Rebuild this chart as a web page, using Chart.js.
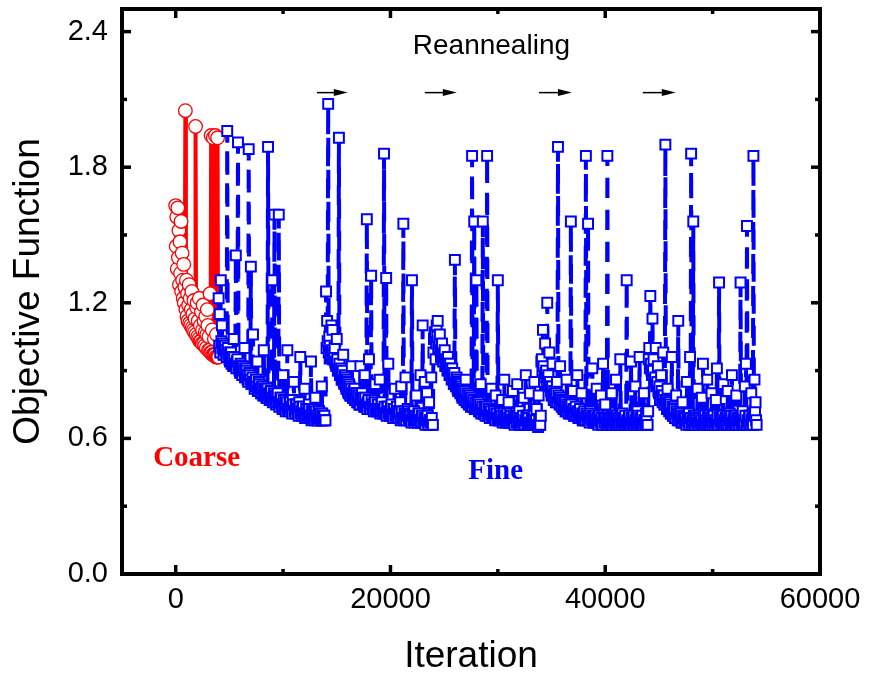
<!DOCTYPE html>
<html>
<head>
<meta charset="utf-8">
<script src="https://cdn.jsdelivr.net/npm/chart.js@4.4.1/dist/chart.umd.min.js"></script>
<style>
  html, body { margin: 0; padding: 0; background: #fff; }
  canvas { display: block; }
</style>
</head>
<body>
<canvas id="annealChart" width="871" height="681"></canvas>
<script>
// Axis ticks
const xTicks = [0, 20000, 40000, 60000];
const xMinorTicks = [10000, 30000, 50000];
const yTicks = [0, 0.6, 1.2, 1.8, 2.4];
const yMinorTicks = [0.3, 0.9, 1.5, 2.1];

// Coarse stage (red circles), sampled every 50 iterations from 0
const coarseStart = 0;
const coarseStep = 50;
const coarseValues = [
    1.63, 1.45, 1.58, 1.35, 1.62, 1.40, 1.52, 1.28, 1.47, 1.33,
    1.56, 1.25, 1.42, 1.30, 1.22, 1.37, 1.20, 1.27, 2.05, 1.17,
    1.30, 1.14, 1.24, 1.12, 1.19, 1.28, 1.11, 1.22, 1.10, 1.17,
    1.25, 1.09, 1.15, 1.08, 1.21, 1.07, 1.13, 1.98, 1.06, 1.18,
    1.20, 1.05, 1.12, 1.04, 1.22, 1.03, 1.10, 1.03, 1.16, 1.02,
    1.08, 1.19, 1.02, 1.12, 1.01, 1.07, 1.14, 1.00, 1.06, 1.17,
    1.10, 0.99, 1.05, 0.99, 1.24, 0.98, 1.94, 0.98, 1.08, 0.97,
    1.93, 0.97, 1.04, 0.97, 1.94, 0.96, 1.06, 0.96, 1.93, 0.96,
    0.96
];

// Fine stage (blue squares), five reannealing runs.
// fineRunN: samples every 100 iterations from the run start,
// fineBandN: samples half way between them (the dense low band)
const fineStarts = [4000, 14000, 24000, 34000, 44000];
const fineStep = 100;
const fineRun1 = [
    1.22, 1.15, 1.30, 1.10, 1.02, 0.99, 1.01, 0.97, 1.96, 0.98,
    0.95, 0.97, 0.93, 0.96, 1.04, 0.92, 1.41, 0.94, 1.91, 0.91,
    0.89, 0.92, 0.88, 0.91, 1.00, 0.87, 0.90, 0.86, 1.88, 0.88,
    1.36, 0.84, 1.06, 0.85, 0.83, 0.86, 0.94, 0.81, 0.84, 0.82,
    0.80, 0.83, 0.99, 0.79, 0.82, 0.78, 1.89, 0.80, 0.78, 0.81,
    1.30, 0.77, 1.59, 0.79, 0.76, 0.80, 1.59, 0.76, 0.78, 0.75,
    0.88, 0.74, 0.77, 0.75, 0.99, 0.73, 0.76, 0.74, 0.72, 0.77,
    0.85, 0.72, 0.75, 0.73, 0.71, 0.76, 0.96, 0.72, 0.74, 0.71,
    0.82, 0.70, 0.73, 0.71, 0.75, 0.70, 0.94, 0.72, 0.69, 0.73,
    0.78, 0.70, 0.68, 0.72, 0.69, 0.71, 0.83, 0.68, 0.70, 0.68
];
const fineBand1 = [
    1.01, 0.98, 1.03, 1.00, 0.97, 1.01, 0.99, 0.96, 1.00, 0.97,
    0.94, 0.98, 0.95, 0.92, 0.96, 0.93, 0.91, 0.95, 0.92, 0.90,
    0.93, 0.89, 0.92, 0.90, 0.87, 0.91, 0.88, 0.85, 0.89, 0.86,
    0.84, 0.87, 0.85, 0.82, 0.86, 0.83, 0.81, 0.85, 0.82, 0.80,
    0.83, 0.79, 0.82, 0.80, 0.78, 0.82, 0.79, 0.77, 0.81, 0.78,
    0.76, 0.80, 0.77, 0.75, 0.79, 0.76, 0.74, 0.78, 0.75, 0.73,
    0.77, 0.74, 0.72, 0.76, 0.73, 0.72, 0.76, 0.73, 0.71, 0.75,
    0.72, 0.71, 0.75, 0.72, 0.70, 0.74, 0.71, 0.70, 0.74, 0.71,
    0.69, 0.73, 0.70, 0.69, 0.73, 0.70, 0.68, 0.72, 0.69, 0.68,
    0.72, 0.69, 0.68, 0.72, 0.69, 0.68, 0.71, 0.68, 0.70, 0.68
];
const fineRun2 = [
    1.25, 1.12, 2.08, 1.05, 0.98, 1.10, 1.08, 0.95, 1.00, 0.93,
    1.04, 0.90, 1.93, 0.88, 0.91, 0.86, 0.97, 0.84, 0.87, 0.82,
    0.85, 0.80, 0.83, 0.79, 0.92, 0.78, 0.81, 0.77, 0.80, 0.76,
    0.79, 0.75, 0.92, 0.77, 0.75, 0.78, 0.88, 0.74, 1.57, 0.76,
    0.95, 0.73, 1.32, 0.75, 0.73, 0.77, 0.84, 0.72, 0.75, 0.73,
    0.86, 0.72, 0.76, 0.73, 1.86, 0.71, 1.31, 0.74, 0.93, 0.72,
    0.71, 0.75, 0.70, 0.73, 0.82, 0.71, 0.74, 0.70, 0.72, 0.76,
    0.83, 0.69, 1.55, 0.72, 0.87, 0.70, 0.73, 0.69, 0.71, 0.68,
    1.30, 0.70, 0.72, 0.68, 0.79, 0.69, 0.71, 0.68, 0.88, 0.70,
    1.10, 0.67, 0.85, 0.69, 0.80, 0.67, 0.76, 0.68, 0.87, 0.66
];
const fineBand2 = [
    1.00, 1.03, 0.98, 1.01, 0.97, 0.99, 0.95, 0.98, 0.94, 0.92,
    0.95, 0.90, 0.93, 0.88, 0.86, 0.90, 0.85, 0.88, 0.83, 0.86,
    0.81, 0.84, 0.79, 0.82, 0.80, 0.78, 0.82, 0.77, 0.80, 0.76,
    0.79, 0.75, 0.78, 0.80, 0.76, 0.74, 0.78, 0.75, 0.73, 0.77,
    0.74, 0.73, 0.77, 0.74, 0.72, 0.76, 0.73, 0.72, 0.75, 0.72,
    0.71, 0.75, 0.72, 0.71, 0.74, 0.71, 0.70, 0.74, 0.71, 0.70,
    0.73, 0.70, 0.69, 0.73, 0.70, 0.69, 0.72, 0.69, 0.71, 0.68,
    0.72, 0.69, 0.68, 0.71, 0.68, 0.70, 0.72, 0.68, 0.70, 0.67,
    0.71, 0.68, 0.67, 0.70, 0.68, 0.67, 0.71, 0.68, 0.67, 0.70,
    0.67, 0.69, 0.66, 0.68, 0.70, 0.66, 0.68, 0.67, 0.69, 0.66
];
const fineRun3 = [
    0.98, 1.05, 0.95, 1.10, 1.12, 1.00, 1.06, 0.96, 1.02, 0.94,
    0.97, 0.92, 0.95, 0.90, 0.93, 0.88, 0.91, 0.86, 0.89, 0.84,
    1.39, 0.83, 0.86, 0.81, 0.84, 0.80, 0.83, 0.78, 0.81, 0.77,
    0.86, 0.76, 0.79, 0.75, 0.78, 0.74, 1.85, 0.76, 1.56, 0.74,
    1.30, 0.73, 0.76, 0.72, 0.84, 0.73, 1.56, 0.71, 0.74, 0.72,
    1.85, 0.70, 0.73, 0.71, 0.82, 0.70, 0.72, 0.69, 0.79, 0.71,
    1.30, 0.68, 0.71, 0.69, 0.77, 0.68, 0.86, 0.70, 0.68, 0.71,
    0.76, 0.67, 0.70, 0.68, 0.81, 0.67, 0.69, 0.71, 0.84, 0.67,
    0.72, 0.66, 0.69, 0.67, 0.78, 0.66, 0.88, 0.68, 0.70, 0.66,
    0.80, 0.67, 0.69, 0.66, 0.85, 0.68, 0.73, 0.66, 0.79, 0.66
];
const fineBand3 = [
    1.04, 1.07, 1.02, 1.05, 1.00, 1.03, 0.99, 1.01, 0.97, 0.96,
    0.99, 0.94, 0.92, 0.96, 0.90, 0.93, 0.88, 0.91, 0.86, 0.89,
    0.84, 0.87, 0.82, 0.85, 0.81, 0.84, 0.79, 0.82, 0.78, 0.81,
    0.77, 0.80, 0.76, 0.79, 0.75, 0.78, 0.74, 0.77, 0.73, 0.76,
    0.73, 0.76, 0.72, 0.75, 0.71, 0.74, 0.71, 0.73, 0.70, 0.74,
    0.70, 0.73, 0.69, 0.72, 0.70, 0.69, 0.72, 0.68, 0.71, 0.69,
    0.68, 0.71, 0.68, 0.70, 0.67, 0.71, 0.68, 0.67, 0.70, 0.67,
    0.69, 0.71, 0.67, 0.68, 0.70, 0.66, 0.69, 0.67, 0.70, 0.67,
    0.66, 0.69, 0.67, 0.70, 0.66, 0.68, 0.70, 0.66, 0.69, 0.67,
    0.66, 0.69, 0.67, 0.70, 0.66, 0.68, 0.66, 0.65, 0.68, 0.66
];
const fineRun4 = [
    0.70, 0.95, 1.08, 0.85, 1.02, 0.90, 1.20, 0.88, 0.98, 0.83,
    0.79, 0.93, 0.77, 0.81, 0.76, 0.85, 1.89, 0.78, 0.92, 0.75,
    0.77, 0.73, 0.76, 0.72, 0.86, 0.74, 0.71, 0.75, 1.56, 0.72,
    0.81, 0.70, 0.73, 0.71, 0.88, 0.69, 0.72, 0.70, 0.80, 0.68,
    0.71, 0.69, 1.85, 0.70, 1.55, 0.68, 0.72, 0.69, 0.91, 0.67,
    0.70, 0.68, 0.82, 0.67, 0.70, 0.68, 0.79, 0.67, 0.93, 0.69,
    0.75, 0.67, 1.85, 0.66, 0.69, 0.67, 0.80, 0.66, 0.70, 0.68,
    0.86, 0.66, 0.69, 0.67, 0.95, 0.66, 0.71, 0.68, 0.67, 0.66,
    1.30, 0.67, 0.70, 0.66, 0.94, 0.68, 0.67, 0.66, 0.83, 0.69,
    0.72, 0.66, 0.96, 0.67, 0.69, 0.66, 0.80, 0.68, 0.71, 0.66
];
const fineBand4 = [
    0.94, 0.90, 0.92, 0.87, 0.89, 0.85, 0.87, 0.83, 0.85, 0.81,
    0.83, 0.79, 0.81, 0.77, 0.80, 0.76, 0.79, 0.75, 0.78, 0.74,
    0.77, 0.73, 0.76, 0.72, 0.75, 0.72, 0.74, 0.71, 0.75, 0.71,
    0.73, 0.70, 0.74, 0.70, 0.72, 0.69, 0.73, 0.69, 0.71, 0.68,
    0.72, 0.68, 0.71, 0.68, 0.70, 0.67, 0.71, 0.68, 0.70, 0.67,
    0.70, 0.67, 0.69, 0.66, 0.70, 0.67, 0.69, 0.66, 0.70, 0.67,
    0.69, 0.66, 0.70, 0.67, 0.68, 0.66, 0.70, 0.67, 0.69, 0.66,
    0.70, 0.67, 0.68, 0.66, 0.70, 0.67, 0.69, 0.66, 0.70, 0.67,
    0.68, 0.66, 0.70, 0.67, 0.69, 0.66, 0.70, 0.67, 0.68, 0.66,
    0.70, 0.67, 0.69, 0.66, 0.70, 0.67, 0.68, 0.66, 0.70, 0.66
];
const fineRun5 = [
    0.72, 1.00, 1.23, 0.90, 1.13, 0.95, 0.86, 1.00, 0.84, 0.92,
    0.80, 0.77, 0.88, 0.79, 0.98, 0.75, 1.90, 0.77, 0.82, 0.73,
    0.76, 0.71, 0.96, 0.70, 0.74, 0.69, 0.79, 0.71, 1.12, 0.68,
    0.72, 0.67, 0.76, 0.69, 0.70, 0.67, 0.85, 0.68, 0.71, 0.96,
    1.86, 0.67, 1.56, 0.66, 0.70, 0.68, 0.82, 0.66, 0.69, 0.67,
    0.78, 0.93, 0.66, 0.70, 0.67, 0.86, 0.66, 0.69, 0.68, 0.80,
    0.66, 0.70, 0.67, 0.77, 0.91, 0.66, 1.29, 0.68, 0.70, 0.66,
    0.84, 0.67, 0.69, 0.66, 0.81, 0.68, 0.71, 0.66, 0.88, 0.67,
    0.70, 0.66, 0.79, 0.68, 0.69, 0.66, 1.29, 0.67, 0.72, 0.66,
    0.83, 0.93, 1.54, 0.67, 0.70, 0.66, 0.80, 0.70, 1.85, 0.86,
    0.76, 0.66
];
const fineBand5 = [
    0.95, 0.91, 0.93, 0.88, 0.90, 0.85, 0.87, 0.83, 0.85, 0.81,
    0.83, 0.78, 0.81, 0.76, 0.79, 0.75, 0.77, 0.73, 0.76, 0.72,
    0.75, 0.71, 0.74, 0.70, 0.73, 0.69, 0.72, 0.68, 0.71, 0.68,
    0.71, 0.67, 0.70, 0.67, 0.69, 0.66, 0.70, 0.67, 0.66, 0.69,
    0.66, 0.68, 0.70, 0.66, 0.69, 0.67, 0.66, 0.70, 0.67, 0.68,
    0.66, 0.70, 0.67, 0.68, 0.66, 0.69, 0.70, 0.66, 0.68, 0.67,
    0.70, 0.66, 0.68, 0.67, 0.70, 0.66, 0.69, 0.67, 0.68, 0.70,
    0.66, 0.68, 0.67, 0.70, 0.66, 0.69, 0.67, 0.70, 0.66, 0.68,
    0.67, 0.70, 0.66, 0.69, 0.67, 0.68, 0.70, 0.66, 0.68, 0.67,
    0.70, 0.66, 0.68, 0.67, 0.70, 0.66, 0.68, 0.66, 0.70, 0.72,
    0.68
];
const fineRuns = [fineRun1, fineRun2, fineRun3, fineRun4, fineRun5];
const fineBands = [fineBand1, fineBand2, fineBand3, fineBand4, fineBand5];

// Annotations (data coordinates)
const arrowStarts = [13150, 23200, 33830, 43500];
const arrowEnds = [16030, 26180, 36900, 46570];
const arrowLevel = 2.13;
const noteTexts = ['Reannealing', 'Coarse', 'Fine'];
const noteX = [29400, 1950, 29800];
const noteY = [2.335, 0.51, 0.455];

const SANS = '"Liberation Sans", Arial, sans-serif';
const SERIF = '"Liberation Serif", "Times New Roman", serif';

function buildPoints(start, step, values) {
    return values.map((v, i) => ({ x: start + i * step, y: v }));
}

// samples on the step grid, each followed by its half-step band sample
function buildRun(start, step, values, band) {
    const pts = [];
    values.forEach((v, i) => {
        pts.push({ x: start + i * step, y: v });
        if (i < band.length) pts.push({ x: start + i * step + step / 2, y: band[i] });
    });
    return pts;
}

const coarsePoints = buildPoints(coarseStart, coarseStep, coarseValues);
const finePoints = fineRuns.flatMap((run, k) => buildRun(fineStarts[k], fineStep, run, fineBands[k]));

// Frame, inward ticks and text notes
const framePlugin = {
    id: 'frame',
    afterDatasetsDraw(chart) {
        const { ctx, chartArea: a, scales: { x, y } } = chart;
        ctx.save();
        ctx.strokeStyle = '#000';
        ctx.lineCap = 'butt';

        function seg(x1, y1, x2, y2) {
            ctx.beginPath();
            ctx.moveTo(x1, y1);
            ctx.lineTo(x2, y2);
            ctx.stroke();
        }

        ctx.lineWidth = 3.5;
        xTicks.forEach(v => {
            const px = x.getPixelForValue(v);
            seg(px, a.bottom, px, a.bottom - 9);
            seg(px, a.top, px, a.top + 9);
        });
        xMinorTicks.forEach(v => {
            const px = x.getPixelForValue(v);
            seg(px, a.bottom, px, a.bottom - 5);
            seg(px, a.top, px, a.top + 5);
        });
        yTicks.forEach(v => {
            const py = y.getPixelForValue(v);
            seg(a.left, py, a.left + 9, py);
            seg(a.right, py, a.right - 9, py);
        });
        yMinorTicks.forEach(v => {
            const py = y.getPixelForValue(v);
            seg(a.left, py, a.left + 5, py);
            seg(a.right, py, a.right - 5, py);
        });

        ctx.lineWidth = 4;
        ctx.strokeRect(a.left, a.top, a.right - a.left, a.bottom - a.top);

        // reannealing arrows
        ctx.fillStyle = '#000';
        ctx.lineWidth = 1.5;
        arrowStarts.forEach((s, i) => {
            const x1 = x.getPixelForValue(s);
            const x2 = x.getPixelForValue(arrowEnds[i]);
            const py = y.getPixelForValue(arrowLevel);
            seg(x1, py, x2 - 10, py);
            ctx.beginPath();
            ctx.moveTo(x2, py);
            ctx.lineTo(x2 - 14, py - 3.5);
            ctx.lineTo(x2 - 14, py + 3.5);
            ctx.closePath();
            ctx.fill();
        });

        // text notes
        const fonts = ['28px ' + SANS, 'bold 29px ' + SERIF, 'bold 29px ' + SERIF];
        const colors = ['#000', '#ff0000', '#0000ff'];
        ctx.textAlign = 'center';
        ctx.textBaseline = 'middle';
        noteTexts.forEach((t, i) => {
            ctx.font = fonts[i];
            ctx.fillStyle = colors[i];
            ctx.fillText(t, x.getPixelForValue(noteX[i]), y.getPixelForValue(noteY[i]));
        });
        ctx.restore();
    }
};

const chart = new Chart(document.getElementById('annealChart').getContext('2d'), {
    type: 'line',
    data: {
        datasets: [
            {
                label: 'Fine',
                data: finePoints,
                order: 0,
                borderColor: '#0000ff',
                borderWidth: 4,
                borderDash: [20, 12],
                borderJoinStyle: 'bevel',
                pointStyle: 'rect',
                pointRadius: 7,
                pointBorderWidth: 2,
                pointBorderColor: '#0000ff',
                pointBackgroundColor: '#ffffff',
                tension: 0,
                fill: false
            },
            {
                label: 'Coarse',
                data: coarsePoints,
                order: 1,
                borderColor: '#ff0000',
                borderWidth: 4,
                borderJoinStyle: 'bevel',
                pointStyle: 'circle',
                pointRadius: 6.8,
                pointBorderWidth: 1.3,
                pointBorderColor: '#ff0000',
                pointBackgroundColor: '#ffffff',
                tension: 0,
                fill: false
            }
        ]
    },
    options: {
        responsive: false,
        animation: false,
        devicePixelRatio: 1,
        events: [],
        layout: { padding: { top: 9, right: 51, left: 0, bottom: 0 } },
        plugins: {
            legend: { display: false },
            tooltip: { enabled: false }
        },
        scales: {
            x: {
                type: 'linear',
                min: -5000,
                max: 60000,
                grid: { display: false, drawTicks: false },
                border: { display: false },
                afterBuildTicks: s => { s.ticks = xTicks.map(v => ({ value: v })); },
                afterFit: s => {
                    s.height = 107;
                    s.paddingLeft = 0;
                    s.paddingRight = 0;
                },
                ticks: {
                    color: '#000',
                    padding: 9,
                    maxRotation: 0,
                    font: { family: SANS, size: 29 },
                    callback: v => String(v)
                },
                title: {
                    display: true,
                    text: 'Iteration',
                    color: '#000',
                    font: { family: SANS, size: 37 },
                    padding: { top: 0, bottom: 2 }
                }
            },
            y: {
                type: 'linear',
                min: 0,
                max: 2.5,
                grid: { display: false, drawTicks: false },
                border: { display: false },
                afterBuildTicks: s => { s.ticks = yTicks.map(v => ({ value: v })); },
                afterFit: s => {
                    s.width = 122;
                    s.paddingTop = 0;
                    s.paddingBottom = 0;
                },
                ticks: {
                    color: '#000',
                    padding: 14,
                    font: { family: SANS, size: 29 },
                    callback: v => Number(v).toFixed(1)
                },
                title: {
                    display: true,
                    text: 'Objective Function',
                    color: '#000',
                    font: { family: SANS, size: 37 },
                    padding: { top: 7, bottom: 0 }
                }
            }
        }
    },
    plugins: [framePlugin]
});
</script>
</body>
</html>
